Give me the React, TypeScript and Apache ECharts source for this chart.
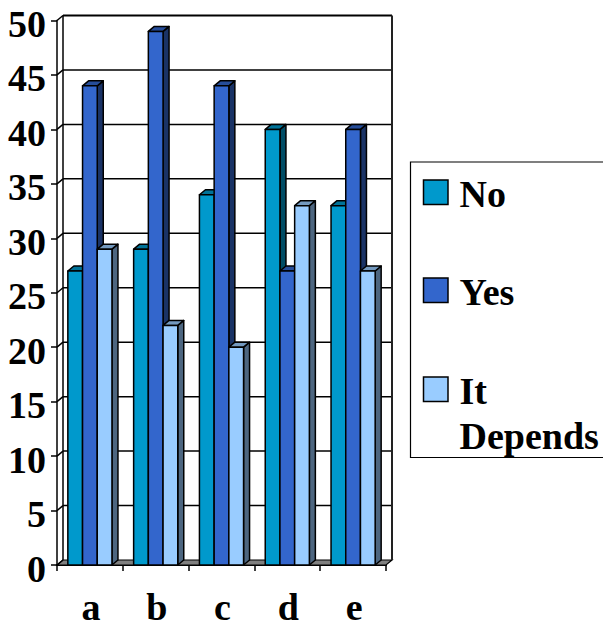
import React, { useEffect, useRef } from "react";
import * as echarts from "echarts";

const categories = ["a", "b", "c", "d", "e"];
const seriesNames = ["No", "Yes", "It Depends"];
const noValues = [27, 29, 34, 40, 33];
const yesValues = [44, 49, 44, 27, 40];
const dependsValues = [29, 22, 20, 33, 27];
const yTicks = [0, 5, 10, 15, 20, 25, 30, 35, 40, 45, 50];
const frontColors = ["#0099CC", "#3366CC", "#99CCFF"];
const topColors = ["#007399", "#264D99", "#7399BF"];
const sideColors = ["#004D66", "#1A3366", "#4D6680"];
const DX = 6;
const DY = 5;
const FONT = "'Liberation Serif', serif";

function wallItem(_: any, api: any) {
  const x0 = api.coord([0, 0])[0] - api.size([1, 0])[0] / 2;
  const x1 = x0 + api.size([1, 0])[0] * categories.length;
  const children: any[] = [];
  const y0 = api.coord([0, 0])[1];
  const y50 = api.coord([0, 50])[1];
  const line = { stroke: "#000", lineWidth: 1.5 };
  children.push({
    type: "polygon",
    shape: { points: [[x0, y0], [x0 + DX, y0 - DY], [x1 + DX, y0 - DY], [x1, y0]] },
    style: { fill: "#808080", stroke: "#000", lineWidth: 1.2 },
  });
  yTicks.forEach((t) => {
    const y = api.coord([0, t])[1];
    children.push({ type: "line", shape: { x1: x0, y1: y, x2: x0 + DX, y2: y - DY }, style: line });
    if (t > 0) {
      children.push({
        type: "line",
        shape: { x1: x0 + DX, y1: y - DY, x2: x1 + DX, y2: y - DY },
        style: { stroke: "#000", lineWidth: t === 50 ? 2 : 1.5 },
      });
    }
  });
  children.push({ type: "line", shape: { x1: x0 + DX, y1: y0 - DY, x2: x0 + DX, y2: y50 - DY }, style: line });
  children.push({ type: "line", shape: { x1: x1 + DX, y1: y0 - DY, x2: x1 + DX, y2: y50 - DY }, style: { stroke: "#222", lineWidth: 2 } });
  return { type: "group", children };
}

function barRenderer(seriesIndex: number) {
  return (_: any, api: any) => {
    const cat = api.value(0);
    const val = api.value(1);
    const [cx, yTop] = api.coord([cat, val]);
    const yBase = api.coord([cat, 0])[1];
    const w = api.size([1, 0])[0] * 0.2235;
    const xl = cx + (seriesIndex - 1.5) * w;
    const xr = xl + w;
    const stroke = { stroke: "#000", lineWidth: 1.5, lineJoin: "round" };
    return {
      type: "group",
      children: [
        {
          type: "polygon",
          shape: { points: [[xr, yBase], [xr + DX, yBase - DY], [xr + DX, yTop - DY], [xr, yTop]] },
          style: { fill: sideColors[seriesIndex], ...stroke },
        },
        {
          type: "polygon",
          shape: { points: [[xl, yTop], [xl + DX, yTop - DY], [xr + DX, yTop - DY], [xr, yTop]] },
          style: { fill: topColors[seriesIndex], ...stroke },
        },
        {
          type: "rect",
          shape: { x: xl, y: yTop, width: w, height: yBase - yTop },
          style: { fill: frontColors[seriesIndex], ...stroke },
        },
      ],
    };
  };
}

const allValues = [noValues, yesValues, dependsValues];
const legendRows = [
  { swatchY: 180, textY: 194, lines: ["No"] },
  { swatchY: 278, textY: 292, lines: ["Yes"] },
  { swatchY: 377, textY: 391, lines: ["It", "Depends"] },
];

export default function App() {
  const ref = useRef<HTMLDivElement>(null);
  useEffect(() => {
    const chart = echarts.init(ref.current!, undefined, { renderer: "svg" });
    const legendGraphics: any[] = [
      {
        type: "rect",
        shape: { x: 410.5, y: 162, width: 220, height: 295.5 },
        style: { fill: "#fff", stroke: "#000", lineWidth: 1.2 },
      },
    ];
    legendRows.forEach((row, i) => {
      legendGraphics.push({
        type: "rect",
        shape: { x: 423.5, y: row.swatchY, width: 24.5, height: 24.5 },
        style: { fill: frontColors[i], stroke: "#000", lineWidth: 1.5 },
      });
      row.lines.forEach((t, j) => {
        legendGraphics.push({
          type: "text",
          x: 459.5,
          y: row.textY + j * 45,
          style: { text: t, fill: "#000", font: `bold 38px ${FONT}`, textVerticalAlign: "middle", textAlign: "left" },
        });
      });
    });
    chart.setOption({
      animation: false,
      backgroundColor: "#fff",
      grid: { left: 57, right: 217, top: 20.5, bottom: 56, outerBoundsMode: "none" },
      graphic: legendGraphics,
      xAxis: {
        type: "category",
        data: categories,
        boundaryGap: true,
        axisLine: { lineStyle: { color: "#000", width: 2 } },
        axisTick: { show: true, alignWithLabel: false, length: 6, lineStyle: { color: "#000", width: 1.5 } },
        axisLabel: { color: "#000", fontFamily: FONT, fontWeight: "bold", fontSize: 38, lineHeight: 30, margin: 27, padding: [0, 0, 0, 2] },
      },
      yAxis: {
        type: "value",
        min: 0,
        max: 50,
        interval: 5,
        splitLine: { show: false },
        axisLine: { show: true, lineStyle: { color: "#000", width: 1.5 } },
        axisTick: { show: true, length: 6, lineStyle: { color: "#000", width: 1.5 } },
        axisLabel: { color: "#000", fontFamily: FONT, fontWeight: "bold", fontSize: 38, margin: 11, verticalAlign: "top", lineHeight: 7 },
      },
      series: [
        {
          type: "custom",
          name: "wall",
          silent: true,
          z: 1,
          renderItem: wallItem,
          data: [[0, 0]],
          encode: { x: 0, y: 1 },
        },
        ...seriesNames.map((name, s) => ({
          type: "custom",
          name,
          z: 2 + s,
          renderItem: barRenderer(s),
          data: allValues[s].map((v, i) => [i, v]),
          encode: { x: 0, y: 1 },
        })),
      ],
    });
    return () => chart.dispose();
  }, []);
  return <div ref={ref} style={{ position: "absolute", left: 0, top: 0, width: 603, height: 621 }} />;
}
